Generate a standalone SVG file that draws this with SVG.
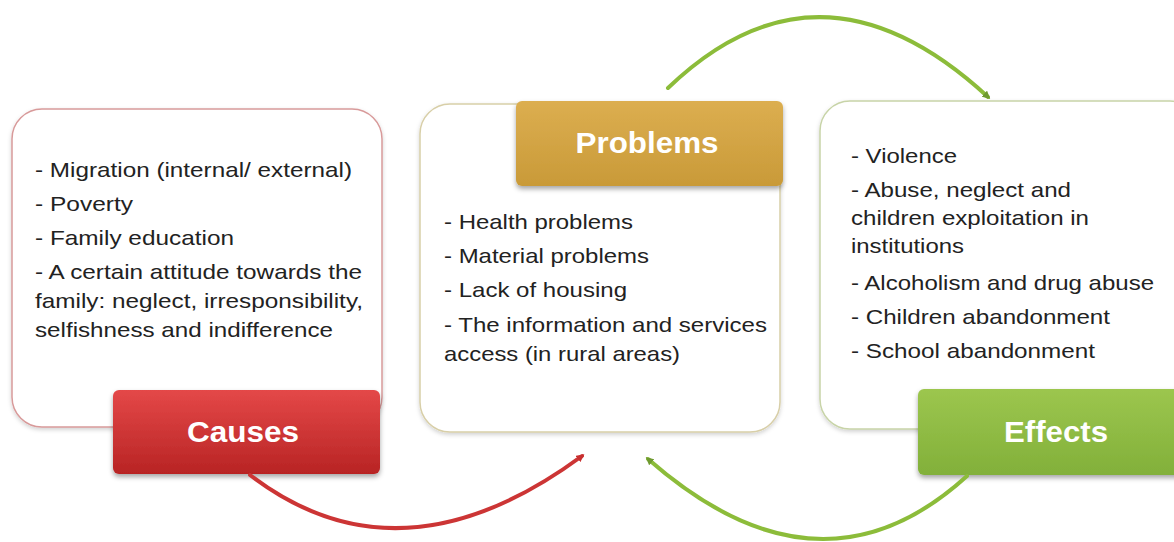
<svg xmlns="http://www.w3.org/2000/svg" width="1174" height="542" viewBox="0 0 1174 542">
<defs>
<style>
.panel{fill:#ffffff;stroke-width:1.5}
.item{font-family:"Liberation Sans",Arial,sans-serif;font-size:21px;fill:#222}
.title{font-family:"Liberation Sans",Arial,sans-serif;font-size:29px;font-weight:bold;fill:#ffffff;text-anchor:middle}
.conn{fill:none;stroke-width:4;stroke-linecap:round}
</style>
<linearGradient id="gRed" x1="0" y1="0" x2="0" y2="1"><stop offset="0" stop-color="#e44848"/><stop offset="1" stop-color="#b82424"/></linearGradient>
<linearGradient id="gGold" x1="0" y1="0" x2="0" y2="1"><stop offset="0" stop-color="#dcae50"/><stop offset="1" stop-color="#c99a38"/></linearGradient>
<linearGradient id="gGreen" x1="0" y1="0" x2="0" y2="1"><stop offset="0" stop-color="#9cc64e"/><stop offset="1" stop-color="#82b03a"/></linearGradient>
<filter id="sh" x="-10%" y="-10%" width="120%" height="130%"><feDropShadow dx="0" dy="3" stdDeviation="2.5" flood-color="#000" flood-opacity="0.35"/></filter>
<filter id="sh2" x="-10%" y="-10%" width="120%" height="120%"><feDropShadow dx="0" dy="2" stdDeviation="2" flood-color="#000" flood-opacity="0.18"/></filter>
<marker id="aRed" markerWidth="8" markerHeight="8" refX="5" refY="4" orient="auto" markerUnits="userSpaceOnUse"><path d="M0,0 L8,4 L0,8 Z" fill="#c83030"/></marker>
<marker id="aGreen" markerWidth="8" markerHeight="8" refX="5" refY="4" orient="auto" markerUnits="userSpaceOnUse"><path d="M0,0 L8,4 L0,8 Z" fill="#6f9a30"/></marker>
</defs>
<rect width="1174" height="542" fill="#ffffff"/>

<g id="causes">
<rect class="panel" x="12" y="109" width="370" height="318" rx="30" stroke="#d89a9a" filter="url(#sh2)"/>
<text class="item" x="35" y="177" textLength="317" lengthAdjust="spacingAndGlyphs">- Migration (internal/ external)</text>
<text class="item" x="35" y="211" textLength="98" lengthAdjust="spacingAndGlyphs">- Poverty</text>
<text class="item" x="35" y="245" textLength="199" lengthAdjust="spacingAndGlyphs">- Family education</text>
<text class="item" x="35" y="279" textLength="327" lengthAdjust="spacingAndGlyphs">- A certain attitude towards the</text>
<text class="item" x="35" y="308" textLength="328" lengthAdjust="spacingAndGlyphs">family: neglect, irresponsibility,</text>
<text class="item" x="35" y="337" textLength="298" lengthAdjust="spacingAndGlyphs">selfishness and indifference</text>
<rect x="113" y="390" width="267" height="84" rx="6" fill="url(#gRed)" filter="url(#sh)"/>
<text class="title" x="243" y="442" textLength="112" lengthAdjust="spacingAndGlyphs">Causes</text>
</g>

<g id="problems">
<rect class="panel" x="420" y="104" width="360" height="328" rx="30" stroke="#d8cfa8" filter="url(#sh2)"/>
<text class="item" x="444" y="229" textLength="189" lengthAdjust="spacingAndGlyphs">- Health problems</text>
<text class="item" x="444" y="263" textLength="205" lengthAdjust="spacingAndGlyphs">- Material problems</text>
<text class="item" x="444" y="297" textLength="183" lengthAdjust="spacingAndGlyphs">- Lack of housing</text>
<text class="item" x="444" y="332" textLength="323" lengthAdjust="spacingAndGlyphs">- The information and services</text>
<text class="item" x="444" y="361" textLength="236" lengthAdjust="spacingAndGlyphs">access (in rural areas)</text>
<rect x="516" y="101" width="267" height="85" rx="6" fill="url(#gGold)" filter="url(#sh)"/>
<text class="title" x="647" y="153" textLength="143" lengthAdjust="spacingAndGlyphs">Problems</text>
</g>

<g id="effects">
<rect class="panel" x="820" y="101" width="380" height="328" rx="30" stroke="#c8d4a8" filter="url(#sh2)"/>
<text class="item" x="851" y="163" textLength="106" lengthAdjust="spacingAndGlyphs">- Violence</text>
<text class="item" x="851" y="197" textLength="220" lengthAdjust="spacingAndGlyphs">- Abuse, neglect and</text>
<text class="item" x="851" y="225" textLength="238" lengthAdjust="spacingAndGlyphs">children exploitation in</text>
<text class="item" x="851" y="253" textLength="113" lengthAdjust="spacingAndGlyphs">institutions</text>
<text class="item" x="851" y="290" textLength="303" lengthAdjust="spacingAndGlyphs">- Alcoholism and drug abuse</text>
<text class="item" x="851" y="324" textLength="259" lengthAdjust="spacingAndGlyphs">- Children abandonment</text>
<text class="item" x="851" y="358" textLength="244" lengthAdjust="spacingAndGlyphs">- School abandonment</text>
<rect x="918" y="389" width="270" height="86" rx="6" fill="url(#gGreen)" filter="url(#sh)"/>
<text class="title" x="1056" y="442" textLength="104" lengthAdjust="spacingAndGlyphs">Effects</text>
</g>

<g id="connectors">
<path class="conn" d="M250,475 Q400,590 582,456" stroke="#cc3535" marker-end="url(#aRed)"/>
<path class="conn" d="M668,88 Q820,-58 988,97" stroke="#8cbc3a" marker-end="url(#aGreen)"/>
<path class="conn" d="M967,476 Q820,610 648,459" stroke="#8cbc3a" marker-end="url(#aGreen)"/>
</g>
</svg>
